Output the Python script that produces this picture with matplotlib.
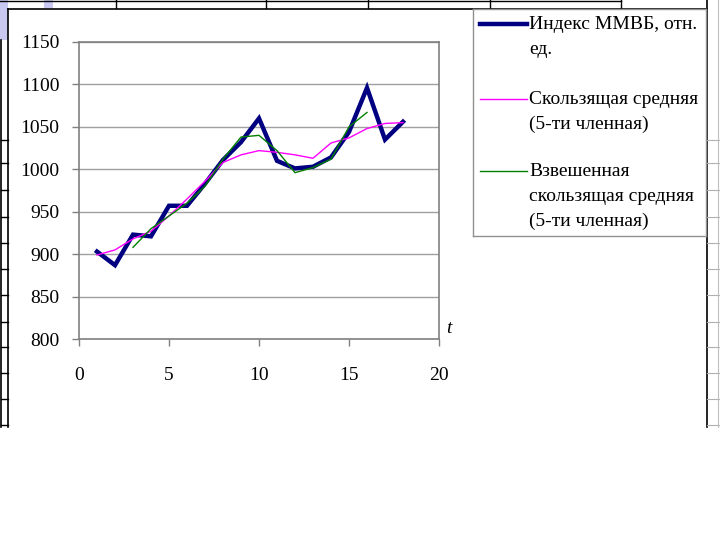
import matplotlib.pyplot as plt

plt.rcParams['font.family'] = ['Liberation Serif', 'DejaVu Serif']

# data
t = list(range(1, 19))
index_micex = [903, 887, 923, 921, 957, 957, 983, 1011, 1032, 1060,
               1010, 1001, 1003, 1014, 1044, 1096, 1035, 1056]
moving_avg = [899, 905, 918, 927, 945, 965, 986, 1008, 1017, 1022,
              1020, 1017, 1013, 1031, 1037, 1048, 1054, 1055]
t_weighted = list(range(3, 17))
weighted_avg = [908, 930, 945, 960, 980, 1012, 1038, 1040,
                1022, 996, 1002, 1012, 1050, 1067]

labels = ["Индекс ММВБ, отн.\nед.",
          "Скользящая средняя\n(5-ти членная)",
          "Взвешенная\nскользящая средняя\n(5-ти членная)"]
colors = ["#000080", "#ff00ff", "#008000"]
widths = [3.2, 1.0, 1.0]

W, H = 720, 540
fig = plt.figure(figsize=(7.2, 5.4), dpi=100)


def fbox(x0, y0, x1, y1):
    # pixel box (top-left origin) -> figure fraction rect
    return [x0 / W, 1 - y1 / H, (x1 - x0) / W, (y1 - y0) / H]


# background: bits of the slide table around the chart
bg = fig.add_axes([0, 0, 1, 1], zorder=0)
bg.set_xlim(0, W)
bg.set_ylim(H, 0)
bg.axis("off")
bg.add_patch(plt.Rectangle((0, 0), 8, 40, color="#c8c8f0", lw=0))
bg.add_patch(plt.Rectangle((44, 0), 9, 8, color="#c8c8f0", lw=0))
bg.plot([0, 621], [1, 1], color="black", lw=1)
for x in [116, 266, 368, 490, 621]:
    bg.plot([x, x], [0, 8], color="black", lw=1)
bg.plot([8, 707], [9, 9], color="black", lw=1.2)
bg.plot([8, 8], [9, 427], color="black", lw=1.2)
bg.plot([707, 707], [0, 427], color="black", lw=1.2)
bg.plot([1, 1], [40, 427], color="black", lw=1.2)
rows = [140, 163, 190, 217, 243, 269, 295, 322, 347, 373, 399, 425]
for y in rows:
    bg.plot([1, 8], [y, y], color="black", lw=1)
    bg.plot([707, 720], [y, y], color="#b0b0b0", lw=0.8)
bg.plot([718, 718], [0, 427], color="#c0c0c0", lw=0.8)

# chart
ax = fig.add_axes(fbox(79, 42, 439, 339), zorder=2)
ax.plot(t, index_micex, color=colors[0], lw=widths[0], solid_joinstyle="miter")
ax.plot(t, moving_avg, color=colors[1], lw=widths[1])
ax.plot(t_weighted, weighted_avg, color=colors[2], lw=widths[2])

ax.set_xlim(0, 20)
ax.set_ylim(800, 1150)
ax.set_xticks([0, 5, 10, 15, 20])
ax.set_yticks(range(800, 1151, 50))
ax.grid(axis="y", color="#a0a0a0", lw=1)
ax.set_axisbelow(True)
for s in ax.spines.values():
    s.set_color("#808080")
    s.set_linewidth(1.2)
ax.tick_params(axis="both", colors="#808080", labelcolor="black",
               labelsize=14, length=5, width=1)
ax.tick_params(axis="x", pad=15)
ax.tick_params(axis="y", pad=9)
ax.text(1.028, 0.037, "t", transform=ax.transAxes, fontsize=14,
        style="italic", ha="center", va="center")

# legend box drawn by hand so the handles sit on the first text line
lg = fig.add_axes(fbox(473, 9, 706, 236), zorder=3)
lg.set_xlim(473, 706)
lg.set_ylim(236, 9)
lg.set_xticks([])
lg.set_yticks([])
for s in lg.spines.values():
    s.set_color("#909090")
    s.set_linewidth(1)
first_line_y = [24, 99, 171]
for lab, c, w, y in zip(labels, colors, widths, first_line_y):
    lg.plot([480, 527], [y, y], color=c, lw=w)
    lg.text(529, y - 8, lab, fontsize=14, va="top", ha="left",
            linespacing=1.58)

fig.savefig("out.png", dpi=100)
